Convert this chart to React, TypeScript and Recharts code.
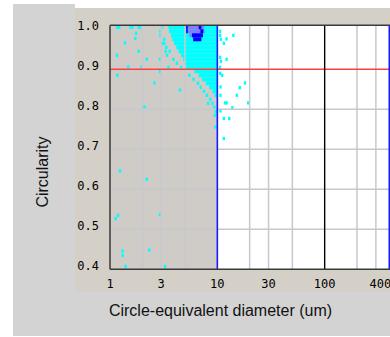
import React from 'react';
import {
  ScatterChart,
  Scatter,
  XAxis,
  YAxis,
  ReferenceArea,
  ReferenceLine,
} from 'recharts';

// axis ticks
const xTicks = [1, 3, 10, 30, 100, 400];
const yTicks = [0.4, 0.5, 0.6, 0.7, 0.8, 0.9, 1.0];
const xGrid = [2, 3, 5, 20, 30, 50, 200, 300, 500];
const yGrid = [0.5, 0.6, 0.7, 0.8];

// dense cyan rows: circularity bin and the diameter where the run starts (runs end at 10 um)
const denseRowY = [1.0, 0.99, 0.98, 0.97, 0.96, 0.95, 0.94, 0.93, 0.92, 0.91, 0.9, 0.89, 0.88, 0.87, 0.86, 0.85, 0.84, 0.83];
const denseRowStart = [3.5, 3.55, 3.7, 3.8, 3.95, 4.15, 4.35, 4.6, 4.8, 5.0, 5.1, 6.1, 6.7, 7.2, 7.8, 8.4, 9.0, 9.4];

// high-count cells (violet) and mid-count cells (blue)
const violetY = [1.0, 0.99, 0.98];
const violetStart = [5.2, 5.2, 5.5];
const violetEnd = [7.5, 7.6, 7.2];
const blueY = [1.0, 0.99, 1.0, 0.99, 0.98, 0.97];
const blueStart = [5.12, 5.12, 6.7, 6.95, 5.8, 5.95];
const blueEnd = [5.3, 5.3, 7.1, 7.4, 7.35, 7.1];

// single scattered cells
const scatterX = [
  1.17, 1.22, 1.55, 1.62, 1.85, 1.9, 1.75, 1.72, 1.38, 1.16, 1.85, 2.2, 1.48, 1.97, 1.17, 2.59,
  2.93, 2.93, 2.09, 4.48, 1.24, 2.2, 1.13, 1.19, 2.93, 1.31, 1.31, 2.32, 1.4, 3.26, 9.6,
  2.95, 2.95, 3.05, 3.2, 3.2, 3.35, 3.6, 3.9, 4.2, 4.6, 5.5, 6.0, 6.6, 7.0, 7.5, 8.0, 8.6,
  9.0, 9.4, 8.2, 9.7, 9.5, 3.05, 3.3, 3.4, 3.5,
  10.6, 10.6, 10.8, 14.1, 12.2, 11.5, 10.6, 10.8, 12.2, 10.6, 10.6, 11.1, 18.1, 16.2, 10.7,
  15.2, 10.7, 11.8, 12.2, 19.4, 13.8, 10.7, 11.5, 12.9, 11.5,
];
const scatterY = [
  1.005, 1.005, 1.005, 1.005, 1.005, 1.005, 0.99, 0.977, 0.966, 0.935, 0.945, 0.925, 0.906, 0.906, 0.885, 0.866,
  0.925, 0.894, 0.806, 0.848, 0.646, 0.625, 0.527, 0.535, 0.537, 0.446, 0.435, 0.448, 0.407, 0.407, 0.756,
  0.995, 0.985, 1.005, 0.975, 0.965, 0.955, 0.945, 0.925, 0.915, 0.905, 0.885, 0.875, 0.865, 0.855, 0.845, 0.835, 0.825,
  0.815, 0.805, 0.815, 0.795, 0.785, 0.965, 0.945, 0.935, 0.905,
  0.995, 0.985, 0.975, 0.985, 0.976, 0.965, 0.93, 0.92, 0.925, 0.905, 0.89, 0.885, 0.866, 0.854, 0.856,
  0.835, 0.835, 0.816, 0.816, 0.816, 0.804, 0.796, 0.777, 0.777, 0.727,
];

const points = scatterX.map((x, i) => ({ x, y: scatterY[i] }));

const mono = '"DejaVu Sans Mono", monospace';
const sans = '"Liberation Sans", Arial, sans-serif';

const Cell = (props: any) => (
  <rect x={props.cx - 1.2} y={props.cy - 1.65} width={2.4} height={3.3} fill="#00ffff" />
);

const renderXTick = ({ x, y, payload }: any) => {
  // the last label is pushed left so it stays inside the panel
  const last = payload.value === xTicks[xTicks.length - 1];
  return (
    <text
      x={last ? x + 2 : x}
      y={y + 14}
      dy="0.35em"
      textAnchor={last ? 'end' : 'middle'}
      fontFamily={mono}
      fontSize={12}
      fill="#000"
    >
      {payload.value}
    </text>
  );
};

const renderYTick = ({ x, y, payload }: any) => (
  <text x={x - 11} y={y - 4} dy="0.35em" textAnchor="end" fontFamily={mono} fontSize={12} fill="#000">
    {Number(payload.value).toFixed(1)}
  </text>
);

export default function App() {
  return (
    <div style={{ position: 'absolute', left: 0, top: 0, width: 390, height: 337, overflow: 'hidden', background: '#fff' }}>
      <div style={{ position: 'absolute', left: 13, top: 4, width: 62, height: 4, background: '#d3d3d3' }} />
      <div style={{ position: 'absolute', left: 13, top: 8, width: 400, height: 328, background: '#d3d3d3' }} />
      <div style={{ position: 'absolute', left: 75, top: 8, width: 400, height: 284, background: '#d4d0c8' }} />

      <div style={{ position: 'absolute', left: 0, top: 0 }}>
        <ScatterChart width={440} height={300} margin={{ top: 25.3, left: 0, right: 8, bottom: 0 }}>
          <XAxis
            type="number"
            dataKey="x"
            scale="log"
            domain={[1, 1000]}
            ticks={xTicks}
            allowDataOverflow
            height={30.7}
            tickSize={0}
            tickMargin={0}
            tickLine={false}
            axisLine={{ stroke: '#3a3a3a', strokeWidth: 1.5 }}
            tick={renderXTick}
            interval={0}
          />
          <YAxis
            type="number"
            dataKey="y"
            domain={[0.4, 1.01]}
            ticks={yTicks}
            allowDataOverflow
            width={110}
            tickSize={0}
            tickMargin={0}
            tickLine={false}
            axisLine={{ stroke: '#3a3a3a', strokeWidth: 1.5 }}
            tick={renderYTick}
            interval={0}
          />

          {/* plot background: gray below 10 um, white above */}
          <ReferenceArea x1={1} x2={10} y1={0.4} y2={1.01} fill="#cfcbc7" fillOpacity={1} stroke="none" zIndex={10} />
          <ReferenceArea x1={10} x2={1000} y1={0.4} y2={1.01} fill="#ffffff" fillOpacity={1} stroke="none" zIndex={10} />

          {denseRowY.map((y, i) => (
            <ReferenceArea key={'d' + i} x1={denseRowStart[i]} x2={10} y1={y} y2={y + 0.01} fill="#00ffff" fillOpacity={1} stroke="none" zIndex={20} />
          ))}
          {violetY.map((y, i) => (
            <ReferenceArea key={'v' + i} x1={violetStart[i]} x2={violetEnd[i]} y1={y} y2={y + 0.01} fill="#8080ff" fillOpacity={1} stroke="none" zIndex={30} />
          ))}
          {blueY.map((y, i) => (
            <ReferenceArea key={'b' + i} x1={blueStart[i]} x2={blueEnd[i]} y1={y} y2={y + 0.01} fill="#0000ff" fillOpacity={1} stroke="none" zIndex={40} />
          ))}

          <Scatter data={points} shape={<Cell />} isAnimationActive={false} zIndex={50} />

          {xGrid.map((v) => (
            <ReferenceLine key={'gx' + v} x={v} stroke="#c8c8cc" strokeWidth={1.5} zIndex={60} />
          ))}
          {yGrid.map((v) => (
            <ReferenceLine key={'gy' + v} y={v} stroke="#c8c8cc" strokeWidth={1.5} zIndex={60} />
          ))}

          <ReferenceLine y={0.9} stroke="#ff4040" strokeWidth={1.5} zIndex={70} />
          <ReferenceLine x={10} stroke="#1a1aff" strokeWidth={1.6} zIndex={70} />
          <ReferenceLine x={100} stroke="#000000" strokeWidth={1.4} zIndex={70} />
          <ReferenceLine x={400} stroke="#1a1aff" strokeWidth={1.6} zIndex={70} />
          <ReferenceLine y={1.01} stroke="#3a3a3a" strokeWidth={1.5} zIndex={80} />
        </ScatterChart>
      </div>

      <div
        style={{
          position: 'absolute',
          left: 0,
          width: 441,
          top: 302,
          textAlign: 'center',
          fontFamily: sans,
          fontSize: 16,
          color: '#111',
          lineHeight: '18px',
        }}
      >
        Circle-equivalent diameter (um)
      </div>
      <div
        style={{
          position: 'absolute',
          left: 42.7,
          top: 171.7,
          transform: 'translate(-50%, -50%) rotate(-90deg)',
          fontFamily: sans,
          fontSize: 16,
          color: '#111',
          whiteSpace: 'nowrap',
          lineHeight: '18px',
        }}
      >
        Circularity
      </div>
    </div>
  );
}
